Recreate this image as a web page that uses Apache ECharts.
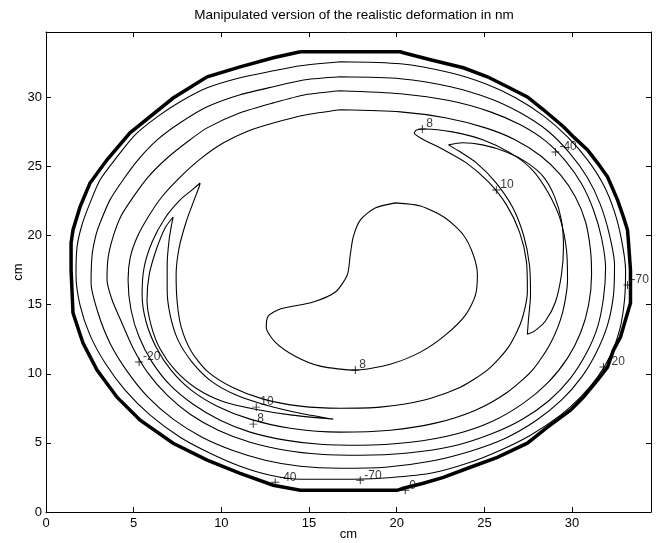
<!DOCTYPE html>
<html>
<head>
<meta charset="utf-8">
<script src="https://cdn.jsdelivr.net/npm/echarts@6/dist/echarts.min.js"></script>
<style>
html, body { margin: 0; padding: 0; background: #fff; }
#chart { width: 660px; height: 543px; }
</style>
</head>
<body>
<div id="chart"></div>
<script>
// Contour paths in cm, traced as [x, y] pairs.
const boundary = [[14.50,33.31],[20.21,33.31],[20.38,33.24],[21.92,32.73],[23.80,32.15],[25.17,31.50],[26.31,30.78],[27.45,30.04],[28.37,29.11],[29.51,27.88],[30.08,27.15],[30.88,26.21],[31.45,25.27],[32.02,24.26],[32.59,22.59],[32.93,21.35],[33.16,20.41],[33.22,19.47],[33.33,17.51],[33.33,15.12],[33.16,14.40],[32.76,12.66],[32.36,11.72],[32.02,10.49],[31.45,9.54],[30.65,8.31],[29.91,7.37],[28.60,6.14],[27.45,4.98],[25.74,3.96],[24.20,3.24],[22.66,2.51],[21.52,2.08],[20.38,1.72],[20.03,1.57],[14.50,1.57],[12.96,1.94],[11.07,2.80],[9.19,3.75],[7.25,4.98],[5.37,6.64],[4.05,8.31],[2.91,10.27],[2.11,12.22],[1.54,14.40],[1.43,17.51],[1.43,19.47],[1.54,20.41],[1.94,22.08],[2.51,23.81],[3.48,25.49],[4.79,27.44],[7.25,29.96],[9.19,31.50],[11.07,32.22],[12.96,32.88],[14.50,33.31]];

const ring1 = [[16.78,32.59],[20.21,32.44],[23.06,31.79],[25.06,30.99],[26.77,29.98],[28.37,28.67],[29.74,27.15],[30.88,25.49],[31.79,23.68],[32.42,21.72],[32.82,19.69],[33.05,17.51],[32.99,15.34],[32.71,13.16],[32.19,11.35],[31.45,9.76],[30.48,8.31],[29.34,7.01],[27.63,5.56],[25.91,4.47],[24.20,3.60],[21.92,2.80],[19.06,2.44],[16.78,2.37],[14.50,2.37],[12.79,2.66],[11.07,3.31],[9.36,4.25],[7.65,5.41],[5.94,7.01],[4.51,8.82],[3.37,10.78],[2.51,12.80],[1.94,14.98],[1.71,17.15],[1.77,19.18],[2.05,20.77],[2.51,22.37],[3.08,24.03],[4.05,25.70],[5.08,27.30],[6.34,28.60],[7.65,29.69],[9.19,30.70],[11.07,31.43],[12.96,31.93],[14.50,32.30],[16.78,32.59]];

const ring2 = [[16.78,31.50],[20.21,31.36],[23.06,30.78],[25.34,29.91],[27.05,28.89],[28.60,27.59],[29.85,25.99],[30.88,24.19],[31.62,22.23],[32.13,20.06],[32.42,17.88],[32.36,15.70],[32.02,13.53],[31.39,11.57],[30.54,9.76],[29.39,8.09],[27.97,6.64],[26.20,5.34],[24.20,4.40],[21.92,3.67],[19.35,3.24],[16.78,3.17],[14.50,3.31],[12.50,3.75],[10.62,4.47],[8.90,5.41],[7.25,6.72],[5.82,8.31],[4.62,10.20],[3.65,12.22],[2.97,14.40],[2.57,16.57],[2.63,18.60],[2.85,20.05],[3.08,20.92],[3.65,22.59],[4.39,24.03],[5.25,25.49],[6.34,26.93],[7.65,28.17],[9.19,29.33],[11.07,30.20],[12.96,30.78],[14.78,31.28],[16.78,31.50]];

const ring3 = [[16.78,30.49],[20.21,30.27],[23.06,29.76],[25.34,28.96],[27.05,28.02],[28.48,26.86],[29.62,25.41],[30.54,23.75],[31.22,21.86],[31.68,19.83],[31.91,17.66],[31.79,15.49],[31.45,13.38],[30.82,11.50],[29.91,9.69],[28.71,8.09],[27.17,6.72],[25.34,5.63],[23.17,4.76],[20.49,4.25],[17.92,4.11],[15.64,4.18],[13.64,4.47],[11.64,5.05],[9.82,5.92],[8.22,7.08],[6.91,8.46],[5.82,10.05],[4.97,11.86],[4.28,13.82],[3.77,15.34],[3.48,16.79],[3.54,18.38],[3.82,19.89],[4.28,21.42],[4.97,22.79],[5.82,24.24],[6.91,25.62],[8.05,26.78],[9.19,27.80],[11.07,28.89],[12.96,29.61],[14.78,30.20],[16.78,30.49]];

const ring4 = [[16.78,29.11],[20.21,28.96],[22.77,28.53],[25.06,27.80],[26.77,26.93],[28.20,25.78],[29.34,24.40],[30.19,22.79],[30.77,20.99],[31.05,18.95],[31.11,17.15],[30.94,14.98],[30.48,12.95],[29.74,11.14],[28.65,9.40],[27.23,7.88],[25.46,6.57],[23.34,5.63],[20.78,5.05],[17.92,4.83],[15.64,4.90],[13.64,5.20],[11.64,5.78],[9.93,6.64],[8.39,7.80],[7.08,9.18],[6.05,10.85],[5.31,12.66],[4.85,14.62],[4.68,16.79],[4.80,18.40],[5.20,19.90],[5.80,21.30],[6.60,22.80],[7.65,24.24],[8.79,25.54],[10.10,26.70],[11.53,27.57],[12.96,28.15],[14.78,28.73],[16.78,29.11]];

// Level 8: C-shaped band open at the top, plus the central bean
const band8 = [[8.79,23.81],[8.33,23.31],[7.65,22.59],[6.79,21.28],[6.05,19.54],[5.59,17.66],[5.48,15.70],[5.71,13.75],[6.28,11.93],[7.13,10.27],[8.28,8.82],[9.76,7.66],[11.64,6.72],[13.93,6.06],[16.78,5.78],[19.63,5.92],[22.20,6.43],[24.49,7.37],[26.31,8.67],[27.74,10.27],[28.77,12.22],[29.45,14.40],[29.74,16.79],[29.68,18.96],[29.34,21.13],[28.65,23.08],[27.74,24.75],[26.48,25.99],[24.94,26.93],[23.17,27.51],[21.63,27.72],[21.12,27.64],[21.00,27.43],[21.46,27.00],[22.60,26.27],[23.97,25.27],[25.23,23.89],[26.26,22.23],[27.00,20.27],[27.40,18.10],[27.45,15.92],[27.11,13.82],[26.37,11.93],[25.23,10.34],[23.63,9.03],[21.52,8.09],[19.06,7.59],[16.78,7.51],[14.50,7.66],[12.39,8.17],[10.62,9.03],[9.19,10.20],[8.28,11.64],[7.71,13.38],[7.48,15.20],[7.42,17.15],[7.59,19.11],[7.99,20.99],[8.45,22.59],[8.73,23.52],[8.79,23.81]];

const bean8 = [[19.92,22.37],[21.35,22.15],[22.77,21.28],[23.80,20.05],[24.37,18.60],[24.60,17.15],[24.49,15.70],[23.92,14.25],[22.77,12.80],[21.35,11.57],[19.63,10.70],[17.64,10.27],[15.64,10.56],[14.21,11.28],[13.07,12.30],[12.56,13.38],[12.67,14.18],[13.36,14.69],[15.24,15.20],[16.50,15.92],[17.18,17.15],[17.35,18.60],[17.52,19.91],[17.92,21.13],[18.77,22.00],[19.92,22.37]];

// Level 10: two crescents
const crescent10Left = [[7.25,21.35],[6.79,20.56],[6.28,18.96],[5.88,17.15],[5.76,15.34],[5.99,13.53],[6.51,11.79],[7.36,10.27],[8.56,8.96],[10.05,8.02],[11.93,7.44],[14.04,7.01],[16.38,6.72],[14.50,7.15],[12.56,7.73],[10.84,8.46],[9.42,9.47],[8.33,10.85],[7.53,12.44],[7.08,14.25],[6.91,16.06],[6.91,17.88],[7.02,19.69],[7.19,20.99],[7.25,21.35]];

const crescent10Right = [[22.95,26.57],[23.74,26.72],[24.89,26.57],[26.26,26.06],[27.45,25.27],[28.37,24.26],[28.99,22.86],[29.39,21.13],[29.51,19.18],[29.39,17.15],[29.05,15.20],[28.48,13.82],[27.85,13.09],[27.45,12.87],[27.51,13.89],[27.63,15.70],[27.57,17.88],[27.23,20.05],[26.60,22.08],[25.63,23.88],[24.54,25.27],[23.52,26.14],[22.95,26.57]];

// Inline contour labels: level text and the point it marks
const labelText = ['-70', '-40', '0', '-20', '10', '8', '8', '8', '10', '-40', '-20', '-70'];
const labelX = [17.92, 13.07, 20.49, 5.31, 11.99, 11.82, 17.64, 21.46, 25.68, 29.05, 31.79, 33.16];
const labelY = [2.30, 2.15, 1.57, 10.85, 7.59, 6.36, 10.27, 27.72, 23.31, 26.06, 10.49, 16.43];

const xTicks = [0, 5, 10, 15, 20, 25, 30];
const yTicks = [0, 5, 10, 15, 20, 25, 30];
const xMax = 34.5;
const yMax = 34.74;

const FONT = "'Liberation Sans', Arial, Helvetica, sans-serif";
const chart = echarts.init(document.getElementById('chart'), null, { renderer: 'canvas' });

const thin = [ring1, ring2, ring3, ring4, band8, bean8, crescent10Left, crescent10Right];
const series = thin.map(pts => ({
  type: 'line', data: pts, symbol: 'none', smooth: 0.25, silent: true,
  lineStyle: { color: '#000', width: 1.1 }
}));
series.push({
  type: 'line', data: boundary, symbol: 'none', smooth: false, silent: true,
  lineStyle: { color: '#000', width: 3.5, join: 'miter' }
});
series.push({
  type: 'scatter', silent: true,
  symbol: 'path://M0,4.4H10V5.6H0ZM4.4,0H5.6V10H4.4Z',
  symbolSize: 8,
  itemStyle: { color: '#000' },
  data: labelText.map((t, i) => ({ value: [labelX[i], labelY[i]], name: t })),
  label: {
    show: true, position: 'inside', align: 'left', verticalAlign: 'bottom',
    offset: [4, 1], formatter: p => p.name,
    fontFamily: FONT, fontSize: 12, color: '#000'
  }
});

const axisCommon = {
  type: 'value', min: 0, interval: 5,
  axisLine: { show: true, onZero: false, lineStyle: { color: '#000', width: 1 } },
  axisTick: { show: true, inside: true, length: 5, lineStyle: { color: '#000' } },
  splitLine: { show: false }
};

chart.setOption({
  animation: false,
  backgroundColor: '#fff',
  title: {
    text: 'Manipulated version of the realistic deformation in nm',
    left: 349, top: 3, textAlign: 'center',
    textStyle: { fontFamily: FONT, fontSize: 13.5, fontWeight: 'normal', color: '#000' }
  },
  grid: { left: 46, right: 9, top: 32, bottom: 31, containLabel: false, outerBoundsMode: 'none' },
  xAxis: [
    Object.assign({}, axisCommon, {
      position: 'bottom', max: xMax,
      name: 'cm', nameLocation: 'middle', nameGap: 16, nameMoveOverlap: false,
      nameTextStyle: { fontFamily: FONT, fontSize: 13, color: '#000' },
      axisLabel: { show: true, margin: 5, fontFamily: FONT, fontSize: 13, color: '#000',
        showMaxLabel: false, formatter: v => xTicks.includes(v) ? String(v) : '' }
    }),
    Object.assign({}, axisCommon, { position: 'top', max: xMax, axisLabel: { show: false } })
  ],
  yAxis: [
    Object.assign({}, axisCommon, {
      position: 'left', max: yMax,
      name: 'cm', nameLocation: 'middle', nameGap: 21, nameRotate: 90, nameMoveOverlap: false,
      nameTextStyle: { fontFamily: FONT, fontSize: 13, color: '#000' },
      axisLabel: { show: true, margin: 4, fontFamily: FONT, fontSize: 13, color: '#000',
        showMaxLabel: false, formatter: v => yTicks.includes(v) ? String(v) : '' }
    }),
    Object.assign({}, axisCommon, { position: 'right', max: yMax, axisLabel: { show: false } })
  ],
  series: series
});
</script>
</body>
</html>
